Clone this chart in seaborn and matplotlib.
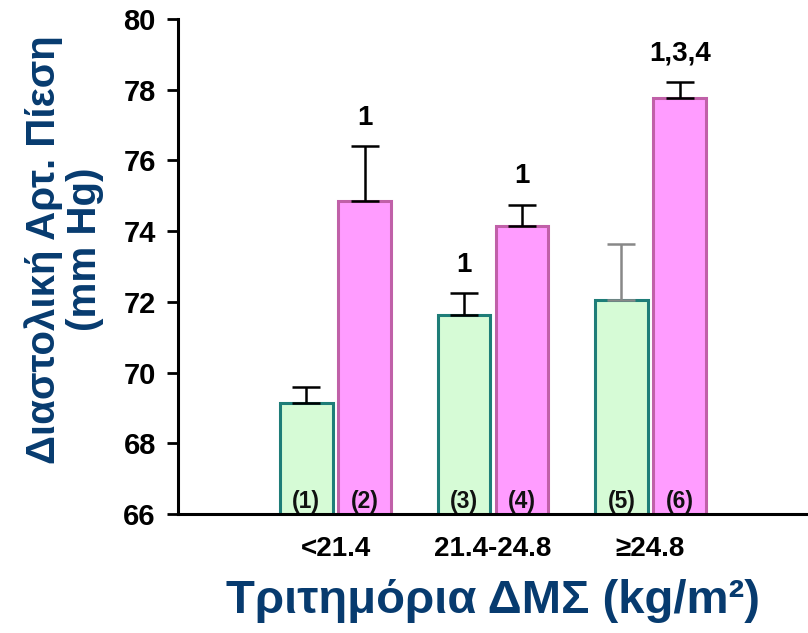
import pandas as pd
import matplotlib
matplotlib.use('Agg')
import matplotlib.pyplot as plt
import seaborn as sns

# Data
categories = ['<21.4', '21.4-24.8', '≥24.8']
groups = ['A', 'B']
values_a = [69.15, 71.63, 72.05]
values_b = [74.85, 74.15, 77.76]
err_a = [0.45, 0.62, 1.6]
err_b = [1.56, 0.6, 0.46]
sig_a = ['', '1', '']
sig_b = ['1', '1', '1,3,4']
bar_numbers = [['(1)', '(3)', '(5)'], ['(2)', '(4)', '(6)']]

df = pd.DataFrame({
    'category': categories * 2,
    'group': ['A'] * 3 + ['B'] * 3,
    'value': values_a + values_b,
})

sns.set_style('white')
plt.rcParams['font.family'] = ['Liberation Sans', 'DejaVu Sans']
plt.rcParams['font.weight'] = 'bold'
plt.rcParams['text.color'] = 'black'
plt.rcParams['xtick.color'] = 'black'
plt.rcParams['ytick.color'] = 'black'
plt.rcParams['axes.edgecolor'] = 'black'

fig = plt.figure(figsize=(8.08, 6.33), dpi=100)
ax = fig.add_axes([0.2203, 0.188, 0.7797, 0.782])

sns.barplot(data=df, x='category', y='value', hue='group', hue_order=groups,
            palette={'A': '#d6fbd6', 'B': '#ff9cff'}, width=0.74, gap=0.1,
            legend=False, ax=ax, saturation=1)

edge_colors = ['#1e7d78', '#c060a8']
err_colors = [['black', 'black', '#888888'], ['black', 'black', 'black']]
errs = [err_a, err_b]
vals = [values_a, values_b]
sigs = [sig_a, sig_b]

for i, patch in enumerate(ax.patches):
    h, c = divmod(i, 3)
    patch.set_edgecolor(edge_colors[h])
    patch.set_linewidth(2.2)
    xc = patch.get_x() + patch.get_width() / 2
    top = vals[h][c]
    ax.errorbar(xc, top, yerr=[[0], [errs[h][c]]], color=err_colors[h][c],
                capsize=10, elinewidth=1.8, capthick=1.8, zorder=1)
    ax.text(xc, 66.03, bar_numbers[h][c], ha='center', va='bottom',
            fontsize=16.5, fontweight='bold', color='#111111')
    if sigs[h][c]:
        ax.annotate(sigs[h][c], (xc, top + errs[h][c]), xytext=(0, 11),
                    textcoords='offset points', ha='center', va='bottom',
                    fontsize=20, fontweight='bold')

ax.set_ylim(66, 80)
ax.set_xlim(-1, 3)
ax.set_yticks(range(66, 81, 2))
ax.tick_params(axis='y', direction='out', length=8, width=2, left=True,
               labelsize=21, pad=8)
ax.tick_params(axis='x', length=0, labelsize=20, pad=16)
for lab in ax.get_xticklabels() + ax.get_yticklabels():
    lab.set_fontweight('bold')

sns.despine(ax=ax)
ax.spines['left'].set_linewidth(2.2)
ax.spines['bottom'].set_linewidth(2.2)

ax.set_xlabel('Τριτημόρια ΔΜΣ (kg/m²)', fontsize=34, fontweight='bold',
              color='#073b6f', labelpad=12)
ax.set_ylabel('Διαστολική Αρτ. Πίεση\n(mm Hg)', fontsize=29, fontweight='bold',
              color='#073b6f', linespacing=1.1)
ax.yaxis.set_label_coords(-0.118, 0.535)

plt.savefig('out.png', dpi=100)
